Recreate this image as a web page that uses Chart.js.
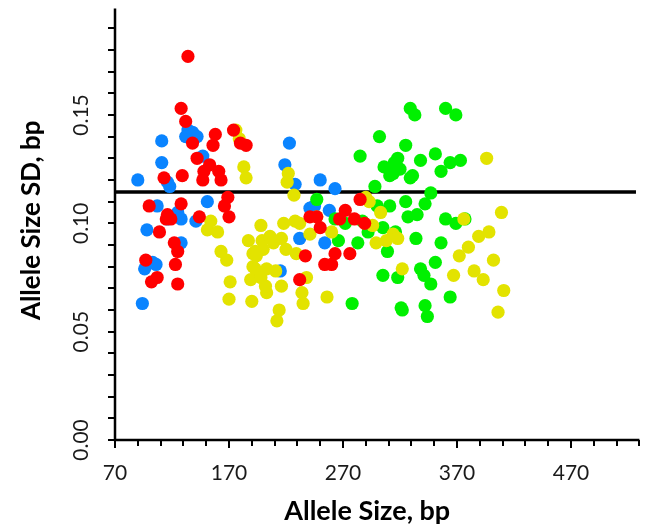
<!DOCTYPE html>
<html>
<head>
<meta charset="utf-8">
<script src="https://cdn.jsdelivr.net/npm/chart.js@4.4.1/dist/chart.umd.min.js"></script>
<style>
  html, body { margin: 0; padding: 0; background: #ffffff; }
  #c { display: block; }
</style>
</head>
<body>
<canvas id="c" width="646" height="530"></canvas>
<script>
// Allele size (bp) vs. allele size SD (bp), one array per marker group
const bluePoints = [
  [90,0.120],[111,0.138],[111,0.128],[116,0.119],[118,0.117],[134,0.143],[138,0.142],
  [132,0.140],[142,0.140],[147,0.131],[151,0.110],[107,0.108],[125,0.105],[116,0.102],
  [128,0.102],[141,0.101],[98,0.097],[128,0.091],[103,0.082],[106,0.081],[96,0.079],
  [94,0.063],[223,0.137],[219,0.127],[228,0.118],[250,0.120],[263,0.116],[241,0.107],
  [258,0.106],[245,0.108],[232,0.093],[254,0.091],[215,0.078]
];
const redPoints = [
  [134,0.177],[128,0.153],[132,0.147],[138,0.137],[142,0.130],[158,0.141],[156,0.136],
  [153,0.127],[148,0.124],[147,0.120],[161,0.124],[163,0.120],[129,0.122],[113,0.121],
  [174,0.143],[180,0.137],[185,0.136],[100,0.108],[128,0.109],[169,0.112],[166,0.108],
  [116,0.104],[109,0.096],[122,0.091],[125,0.087],[115,0.102],[119,0.102],[144,0.103],
  [170,0.103],[97,0.083],[123,0.081],[102,0.073],[107,0.075],[125,0.072],[285,0.111],
  [241,0.103],[247,0.103],[250,0.098],[272,0.106],[267,0.102],[280,0.102],[289,0.100],
  [237,0.085],[263,0.086],[276,0.086],[254,0.081],[260,0.081],[232,0.074]
];
const yellowPoints = [
  [176,0.143],[179,0.139],[183,0.126],[185,0.121],[154,0.101],[151,0.097],[160,0.096],
  [163,0.087],[168,0.083],[171,0.073],[170,0.065],[187,0.092],[189,0.074],[190,0.064],
  [191,0.086],[191,0.080],[227,0.113],[218,0.100],[228,0.101],[198,0.099],[199,0.092],
  [206,0.094],[209,0.091],[216,0.093],[193,0.087],[200,0.088],[194,0.085],[220,0.088],
  [193,0.079],[203,0.079],[211,0.078],[216,0.071],[203,0.068],[214,0.060],[212,0.055],
  [221,0.119],[222,0.123],[232,0.100],[241,0.095],[260,0.096],[229,0.086],[198,0.075],
  [202,0.071],[238,0.075],[234,0.068],[235,0.063],[256,0.066],[303,0.105],[299,0.091],
  [308,0.092],[296,0.099],[247,0.103],[290,0.112],[293,0.110],[314,0.095],[318,0.093],
  [396,0.130],[409,0.105],[376,0.102],[398,0.096],[389,0.094],[380,0.089],[372,0.085],
  [402,0.083],[385,0.078],[393,0.074],[367,0.076],[322,0.079],[411,0.069],[406,0.059]
];
const greenPoints = [
  [329,0.153],[333,0.150],[360,0.153],[369,0.150],[302,0.140],[285,0.131],[306,0.126],
  [311,0.122],[315,0.128],[325,0.136],[351,0.132],[318,0.130],[320,0.125],[338,0.129],
  [364,0.128],[373,0.129],[356,0.124],[331,0.122],[329,0.121],[298,0.117],[347,0.114],
  [247,0.111],[300,0.108],[311,0.108],[325,0.110],[342,0.109],[327,0.103],[335,0.104],
  [360,0.102],[369,0.100],[377,0.102],[263,0.102],[272,0.100],[266,0.092],[283,0.091],
  [292,0.096],[305,0.098],[309,0.087],[305,0.076],[278,0.063],[334,0.093],[356,0.091],
  [351,0.082],[338,0.079],[341,0.076],[347,0.072],[318,0.075],[364,0.066],[321,0.061],
  [322,0.060],[342,0.062],[344,0.057],[314,0.123],[316,0.096],[287,0.101]
];
// overall mean SD drawn as a reference line
const meanSD = 0.1144;
const meanLineX = [70, 527];

// axis ranges and labelled ticks
const X_MIN = 70, X_MAX = 530, X_STEP = 20;
const Y_MIN = 0, Y_MAX = 0.2, Y_STEP = 0.01;
const xTickLabels = [70, 170, 270, 370, 470];
const yTickLabels = [0.00, 0.05, 0.10, 0.15];
const xTitle = 'Allele Size, bp';
const yTitle = 'Allele Size SD, bp';

const toXY = arr => arr.map(p => ({ x: p[0], y: p[1] }));

function scatterSet(label, pts, color, order) {
  return {
    type: 'scatter', label, data: toXY(pts), order,
    backgroundColor: color, borderColor: color, borderWidth: 0,
    pointRadius: 6.6, pointHoverRadius: 6.6
  };
}

const FONT = 'Lato, "Liberation Sans", sans-serif';

// axes, tick marks, tick labels and titles
const axesPlugin = {
  id: 'axesPlugin',
  afterDraw(chart) {
    const { ctx, chartArea: a, scales: { x, y } } = chart;
    ctx.save();
    ctx.strokeStyle = '#000';
    ctx.lineCap = 'butt';
    // axis lines
    ctx.lineWidth = 2.5;
    ctx.beginPath();
    ctx.moveTo(a.left, a.top + 2);
    ctx.lineTo(a.left, a.bottom + 1.25);
    ctx.moveTo(a.left - 1.25, a.bottom);
    ctx.lineTo(a.right, a.bottom);
    ctx.stroke();
    // y tick marks
    ctx.lineWidth = 2;
    ctx.beginPath();
    for (let i = 0; Y_MIN + i * Y_STEP < Y_MAX - 1e-9; i++) {
      const py = Math.round(y.getPixelForValue(Y_MIN + i * Y_STEP));
      ctx.moveTo(a.left - 7, py);
      ctx.lineTo(a.left, py);
    }
    // x tick marks
    for (let v = X_MIN; v <= X_MAX; v += X_STEP) {
      const px = Math.round(x.getPixelForValue(v));
      const major = (v - X_MIN) % 100 === 0;
      ctx.moveTo(px, a.bottom + (v === X_MIN ? -6 : 0));
      ctx.lineTo(px, a.bottom + (major ? 8 : 6));
    }
    ctx.stroke();
    // x tick labels
    ctx.fillStyle = '#1a1a1a';
    ctx.font = '21px ' + FONT;
    ctx.textAlign = 'center';
    ctx.textBaseline = 'middle';
    xTickLabels.forEach(v => ctx.fillText(String(v), x.getPixelForValue(v), 473));
    // y tick labels, rotated
    yTickLabels.forEach(v => {
      ctx.save();
      ctx.translate(81, y.getPixelForValue(v));
      ctx.rotate(-Math.PI / 2);
      ctx.fillText(v.toFixed(2), 0, 0);
      ctx.restore();
    });
    // titles
    ctx.fillStyle = '#000';
    ctx.font = 'bold 27px ' + FONT;
    ctx.fillText(xTitle, (a.left + a.right) / 2 - 10, 511);
    ctx.font = 'bold 26px ' + FONT;
    ctx.save();
    ctx.translate(32, (a.top + a.bottom) / 2 - 3);
    ctx.rotate(-Math.PI / 2);
    ctx.fillText(yTitle, 0, 0);
    ctx.restore();
    ctx.restore();
  }
};

new Chart(document.getElementById('c'), {
  data: {
    datasets: [
      scatterSet('Red', redPoints, '#ff0000', 1),
      scatterSet('Yellow', yellowPoints, '#e3e300', 2),
      scatterSet('Green', greenPoints, '#00f000', 3),
      scatterSet('Blue', bluePoints, '#0a84ff', 4),
      {
        type: 'line', label: 'Mean', order: 10,
        data: meanLineX.map(v => ({ x: v, y: meanSD })),
        borderColor: '#000', borderWidth: 3.5, pointRadius: 0, fill: false
      }
    ]
  },
  options: {
    responsive: false,
    animation: false,
    events: [],
    layout: { padding: { left: 115, right: 2, top: 3, bottom: 90 } },
    plugins: { legend: { display: false }, tooltip: { enabled: false } },
    scales: {
      x: { type: 'linear', display: false, min: X_MIN, max: X_MAX },
      y: { type: 'linear', display: false, min: Y_MIN, max: Y_MAX }
    }
  },
  plugins: [axesPlugin]
});
</script>
</body>
</html>
